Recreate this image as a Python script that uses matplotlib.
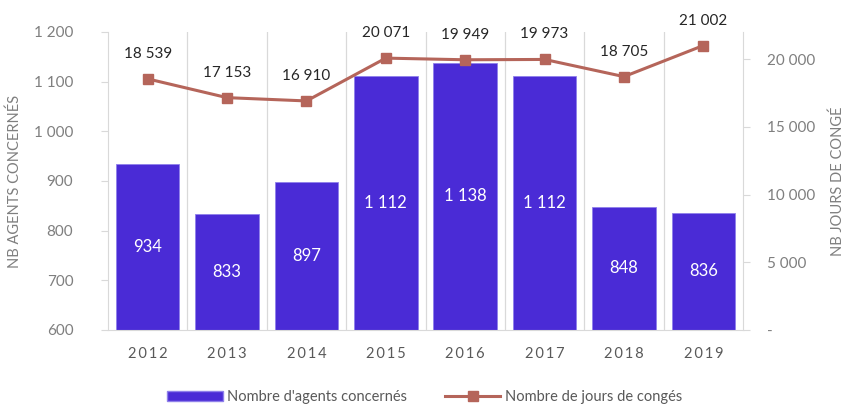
import matplotlib
matplotlib.use("Agg")
import matplotlib.pyplot as plt
from matplotlib.ticker import FuncFormatter
from matplotlib.patches import Patch
from matplotlib.lines import Line2D

plt.rcParams['font.family'] = ['Lato', 'DejaVu Sans']

years = ["2012", "2013", "2014", "2015", "2016", "2017", "2018", "2019"]
agents = [934, 833, 897, 1112, 1138, 1112, 848, 836]
jours = [18539, 17153, 16910, 20071, 19949, 19973, 18705, 21002]

bar_color = "#4a2bd6"
line_color = "#b5655a"
grey = "#7f7f7f"
dark_grey = "#595959"
grid_c = "#d9d9d9"

def fmt(v):
    return f"{int(v):,}".replace(",", " ")

fig = plt.figure(figsize=(8.49, 4.07), dpi=100)
ax = fig.add_axes([0.1272, 0.1892, 0.748, 0.7322])
x = list(range(len(years)))

ax.bar(x, agents, width=0.8, color=bar_color, edgecolor="#8f80ea", linewidth=0.6, zorder=2)
ax.set_ylim(600, 1200)
ax.set_xlim(-0.5, len(years) - 0.5)
ax.set_yticks(range(600, 1201, 100))
ax.yaxis.set_major_formatter(FuncFormatter(lambda v, p: fmt(v)))
ax.set_xticks(x)
ax.set_xticklabels(["\u2009".join(y) for y in years])
for lab in ax.get_xticklabels():
    lab.set_fontsize(10.5)
    lab.set_color(dark_grey)
for v in [i + 0.5 for i in range(len(years) - 1)]:
    ax.axvline(v, color=grid_c, lw=0.9, zorder=0)
for i, v in enumerate(agents):
    ax.text(i, (600 + v) / 2, fmt(v), ha="center", va="center", color="white", fontsize=12)

ax.tick_params(axis="x", length=0, pad=12)
ax.tick_params(axis="y", length=5, color=grid_c, labelsize=11, labelcolor=grey, pad=20)
for s in ["top", "right"]:
    ax.spines[s].set_visible(False)
ax.spines["left"].set_color(grid_c)
ax.spines["bottom"].set_color(grid_c)
ax.set_ylabel("NB AGENTS CONCERNÉS", color=grey, fontsize=10.5)
ax.yaxis.set_label_coords(-0.135, 0.5)

ax2 = ax.twinx()
ax2.plot(x, jours, color=line_color, lw=2.2, marker="s", markersize=7, zorder=3)
ax2.set_ylim(0, 22000)
ax2.set_yticks([0, 5000, 10000, 15000, 20000])
ax2.yaxis.set_major_formatter(FuncFormatter(lambda v, p: "-" if v == 0 else fmt(v)))
ax2.tick_params(axis="y", length=5, color=grid_c, labelsize=11, labelcolor=grey, pad=12)
for s in ["top", "left", "bottom"]:
    ax2.spines[s].set_visible(False)
ax2.spines["right"].set_color(grid_c)
ax2.set_ylabel("NB JOURS DE CONGÉ", color=grey, fontsize=10.5, rotation=90)
ax2.yaxis.set_label_coords(1.138, 0.5)
for i, v in enumerate(jours):
    ax2.annotate(fmt(v), (i, v), xytext=(0, 18), textcoords="offset points",
                 ha="center", va="center", fontsize=11, color="#262626", annotation_clip=False)

handles = [Patch(facecolor=bar_color, edgecolor="#8f80ea"),
           Line2D([0], [0], color=line_color, lw=2.2, marker="s", markersize=7)]
leg = fig.legend(handles, ["Nombre d'agents concernés", "Nombre de jours de congés"],
                 loc="center", bbox_to_anchor=(0.5, 0.025), ncol=2, frameon=False,
                 fontsize=10.5, handlelength=3.8, columnspacing=2.6, handletextpad=0.3)
for t in leg.get_texts():
    t.set_color(dark_grey)

fig.savefig("out.png", dpi=100)
